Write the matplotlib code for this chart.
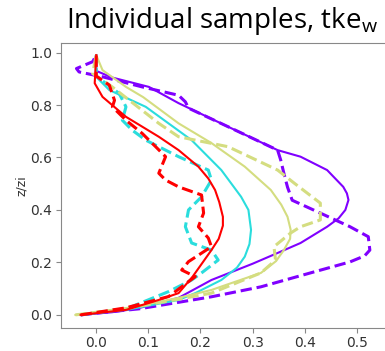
import matplotlib.pyplot as plt
import numpy as np

plt.rcParams['font.family'] = 'DejaVu Sans'

# profiles of tke_w vs normalised height, one colour per sample
purple_solid_x = [-0.03, 0.03, 0.08, 0.158, 0.221, 0.30, 0.348, 0.392, 0.443, 0.465, 0.478, 0.484, 0.481, 0.474, 0.443, 0.392, 0.348, 0.25, 0.158, 0.101, 0.03, 0.0, 0.0]
purple_solid_z = [0.0, 0.01, 0.025, 0.065, 0.133, 0.195, 0.236, 0.274, 0.336, 0.368, 0.40, 0.438, 0.463, 0.488, 0.552, 0.603, 0.628, 0.72, 0.807, 0.869, 0.905, 0.93, 0.99]
purple_dash_x = [-0.03, 0.006, 0.082, 0.158, 0.221, 0.316, 0.411, 0.487, 0.515, 0.525, 0.522, 0.487, 0.43, 0.376, 0.367, 0.36, 0.354, 0.348, 0.25, 0.177, 0.171, 0.158, 0.088, 0.013, -0.033, -0.038, -0.007, 0.0]
purple_dash_z = [0.0, 0.008, 0.023, 0.048, 0.069, 0.107, 0.16, 0.202, 0.225, 0.247, 0.298, 0.336, 0.388, 0.437, 0.487, 0.54, 0.59, 0.628, 0.72, 0.788, 0.812, 0.837, 0.869, 0.907, 0.926, 0.939, 0.965, 0.99]

cyan_solid_x = [-0.03, 0.06, 0.158, 0.19, 0.24, 0.27, 0.285, 0.294, 0.297, 0.292, 0.278, 0.24, 0.183, 0.095, 0.025, 0.0, 0.0]
cyan_solid_z = [0.0, 0.02, 0.057, 0.083, 0.133, 0.18, 0.222, 0.27, 0.324, 0.40, 0.45, 0.552, 0.666, 0.793, 0.857, 0.907, 0.99]
cyan_dash_x = [-0.03, 0.06, 0.139, 0.183, 0.202, 0.234, 0.221, 0.183, 0.171, 0.177, 0.202, 0.221, 0.215, 0.158, 0.095, 0.069, 0.05, 0.057, 0.044, 0.0, 0.0]
cyan_dash_z = [0.0, 0.025, 0.089, 0.133, 0.16, 0.209, 0.247, 0.274, 0.336, 0.4, 0.45, 0.514, 0.552, 0.603, 0.666, 0.704, 0.742, 0.793, 0.844, 0.91, 0.99]

khaki_solid_x = [-0.04, 0.06, 0.158, 0.221, 0.316, 0.345, 0.36, 0.372, 0.373, 0.367, 0.355, 0.335, 0.285, 0.221, 0.158, 0.09, 0.057, 0.012, 0.0]
khaki_solid_z = [0.0, 0.025, 0.065, 0.095, 0.16, 0.205, 0.247, 0.29, 0.325, 0.374, 0.42, 0.476, 0.565, 0.655, 0.73, 0.83, 0.869, 0.933, 0.99]
khaki_dash_x = [-0.04, 0.06, 0.158, 0.221, 0.316, 0.344, 0.341, 0.373, 0.392, 0.43, 0.43, 0.38, 0.348, 0.253, 0.158, 0.12, 0.088, 0.03, -0.007, 0.0]
khaki_dash_z = [0.0, 0.025, 0.06, 0.083, 0.16, 0.209, 0.26, 0.312, 0.336, 0.362, 0.426, 0.502, 0.552, 0.641, 0.679, 0.73, 0.78, 0.87, 0.92, 0.99]

red_solid_x = [-0.03, 0.057, 0.12, 0.158, 0.185, 0.221, 0.235, 0.243, 0.243, 0.236, 0.228, 0.215, 0.196, 0.158, 0.12, 0.057, 0.012, -0.003, 0.0]
red_solid_z = [0.0, 0.019, 0.057, 0.083, 0.146, 0.247, 0.29, 0.34, 0.374, 0.43, 0.476, 0.52, 0.565, 0.628, 0.679, 0.755, 0.831, 0.883, 0.99]
red_dash_x = [-0.03, 0.057, 0.139, 0.19, 0.164, 0.177, 0.221, 0.215, 0.196, 0.206, 0.202, 0.158, 0.133, 0.12, 0.133, 0.114, 0.088, 0.057, 0.031, 0.035, 0.025, 0.0, 0.0]
red_dash_z = [0.0, 0.027, 0.07, 0.146, 0.171, 0.203, 0.26, 0.293, 0.336, 0.388, 0.457, 0.488, 0.514, 0.54, 0.603, 0.641, 0.692, 0.742, 0.793, 0.818, 0.876, 0.91, 0.99]

samples = [
    (purple_solid_x, purple_solid_z, purple_dash_x, purple_dash_z),
    (cyan_solid_x, cyan_solid_z, cyan_dash_x, cyan_dash_z),
    (khaki_solid_x, khaki_solid_z, khaki_dash_x, khaki_dash_z),
    (red_solid_x, red_solid_z, red_dash_x, red_dash_z),
]
colors = plt.cm.rainbow(np.linspace(0, 1, len(samples)))

fig = plt.figure(figsize=(3.85, 3.51), dpi=100)
ax = fig.add_axes([0.158, 0.0655, 0.85, 0.8125])

for (sx, sz, dx, dz), c in zip(samples, colors):
    ax.plot(sx, sz, color=c, lw=1.5, solid_joinstyle='round')
    ax.plot(dx, dz, color=c, lw=2.2, ls='--')

ax.set_xlim(-0.068, 0.56)
ax.set_ylim(-0.05, 1.037)
ax.set_xticks([0.0, 0.1, 0.2, 0.3, 0.4, 0.5])
ax.set_yticks([0.0, 0.2, 0.4, 0.6, 0.8, 1.0])
ax.set_ylabel('z/zi', fontsize=9, color='#333333', labelpad=2)
ax.tick_params(labelsize=10, colors='#333333', length=3.5, width=0.8, pad=2.5)
ax.tick_params(color='#888888')
for s in ax.spines.values():
    s.set_color('#888888')

fig.text(0.577, 0.94, r'Individual samples, tke$_{\mathregular{w}}$', ha='center', va='center',
         fontsize=20, family='Open Sans')

fig.savefig('out.png', dpi=100)
